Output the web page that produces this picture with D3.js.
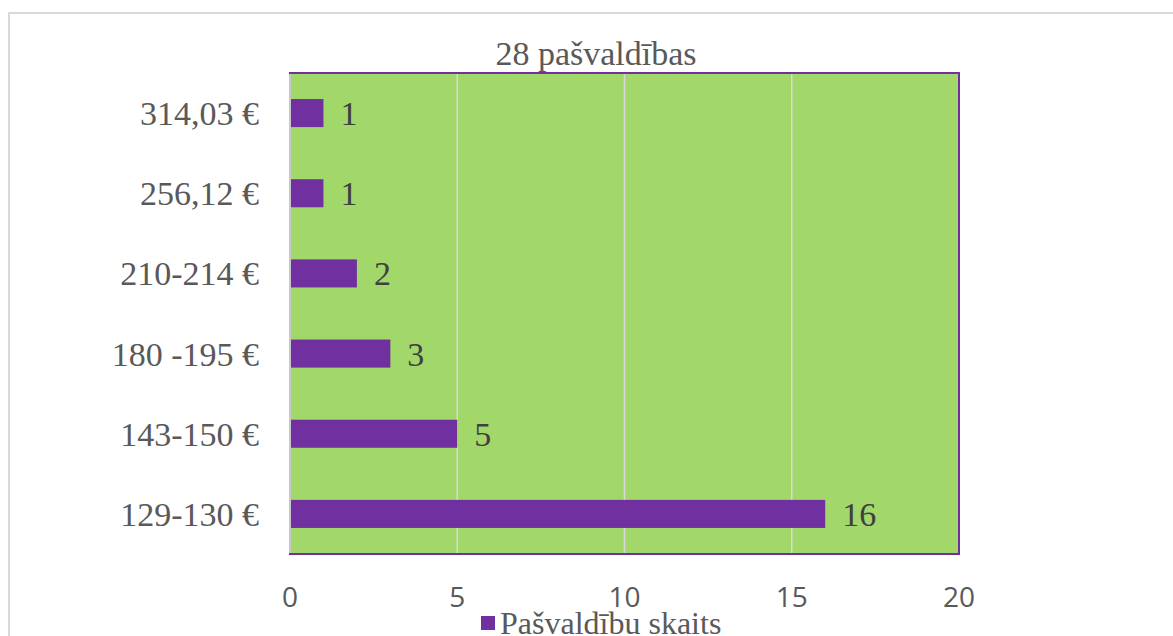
<!DOCTYPE html>
<html>
<head>
<meta charset="utf-8">
<script src="https://cdn.jsdelivr.net/npm/d3@7"></script>
<style>
  body { margin: 0; background: #fff; }
  svg { display: block; }
</style>
</head>
<body>
<div id="chart"></div>
<script>
// chart data
const categories = ["314,03 €", "256,12 €", "210-214 €", "180 -195 €", "143-150 €", "129-130 €"];
const counts = [1, 1, 2, 3, 5, 16];
const xTicks = [0, 5, 10, 15, 20];
const chartTitle = "28 pašvaldības";
const seriesName = "Pašvaldību skaits";

const width = 1173, height = 636;
const plot = {left: 290, right: 959, top: 73, bottom: 554};
const serif = "'Liberation Serif', 'Times New Roman', serif";

let svg = d3.select("#chart")
    .append("svg")
    .attr("width", width)
    .attr("height", height);

// outer frame (cut off on the right and bottom)
svg.append("path")
    .attr("d", `M9,${height} L9,13 L${width},13`)
    .attr("fill", "none")
    .attr("stroke", "#d9d9d9")
    .attr("stroke-width", 2);

let x = d3.scaleLinear()
    .domain([0, 20])
    .range([plot.left, plot.right]);

let y = d3.scaleBand()
    .domain(categories)
    .range([plot.top, plot.bottom])
    .paddingInner(0.65)
    .paddingOuter(0.325);

// plot background
svg.append("rect")
    .attr("x", plot.left)
    .attr("y", plot.top)
    .attr("width", plot.right - plot.left)
    .attr("height", plot.bottom - plot.top)
    .attr("fill", "#a2d76a");

// vertical grid lines
svg.append("g")
    .selectAll("line")
    .data(xTicks.filter(d => d > 0 && d < 20))
    .enter()
    .append("line")
    .attr("x1", d => x(d))
    .attr("x2", d => x(d))
    .attr("y1", plot.top)
    .attr("y2", plot.bottom)
    .attr("stroke", "#d9d9d9")
    .attr("stroke-width", 1.5);

// plot border
svg.append("rect")
    .attr("x", plot.left)
    .attr("y", plot.top)
    .attr("width", plot.right - plot.left)
    .attr("height", plot.bottom - plot.top)
    .attr("fill", "none")
    .attr("stroke", "#7030a0")
    .attr("stroke-width", 2);

// left axis line
svg.append("line")
    .attr("x1", plot.left)
    .attr("x2", plot.left)
    .attr("y1", plot.top + 1)
    .attr("y2", plot.bottom - 1)
    .attr("stroke", "#c8c8c8")
    .attr("stroke-width", 2);

// bars
svg.append("g")
    .selectAll("rect")
    .data(categories)
    .enter()
    .append("rect")
    .attr("x", x(0) + 1)
    .attr("y", d => y(d))
    .attr("width", (d, i) => x(counts[i]) - x(0) - 1)
    .attr("height", y.bandwidth())
    .attr("fill", "#7030a0");

// value labels
svg.append("g")
    .selectAll("text")
    .data(categories)
    .enter()
    .append("text")
    .attr("x", (d, i) => x(counts[i]) + 17)
    .attr("y", d => y(d) + y.bandwidth() / 2 + 12)
    .style("font-family", serif)
    .style("font-size", "34px")
    .attr("fill", "#404040")
    .text((d, i) => counts[i]);

// category labels
svg.append("g")
    .selectAll("text")
    .data(categories)
    .enter()
    .append("text")
    .attr("x", 259)
    .attr("y", d => y(d) + y.bandwidth() / 2 + 12)
    .attr("text-anchor", "end")
    .style("font-family", serif)
    .style("font-size", "34px")
    .attr("fill", "#595959")
    .text(d => d);

// x tick labels
svg.append("g")
    .selectAll("text")
    .data(xTicks)
    .enter()
    .append("text")
    .attr("x", d => x(d))
    .attr("y", 607)
    .attr("text-anchor", "middle")
    .style("font-family", "'Open Sans', 'Liberation Sans', sans-serif")
    .style("font-size", "28px")
    .attr("fill", "#595959")
    .text(d => d);

// title
svg.append("text")
    .attr("x", 596)
    .attr("y", 65)
    .attr("text-anchor", "middle")
    .style("font-family", serif)
    .style("font-size", "34px")
    .attr("fill", "#595959")
    .text(chartTitle);

// legend
svg.append("rect")
    .attr("x", 481)
    .attr("y", 616)
    .attr("width", 14)
    .attr("height", 14)
    .attr("fill", "#7030a0");

svg.append("text")
    .attr("x", 500)
    .attr("y", 634)
    .style("font-family", serif)
    .style("font-size", "32px")
    .attr("fill", "#595959")
    .text(seriesName);
</script>
</body>
</html>
